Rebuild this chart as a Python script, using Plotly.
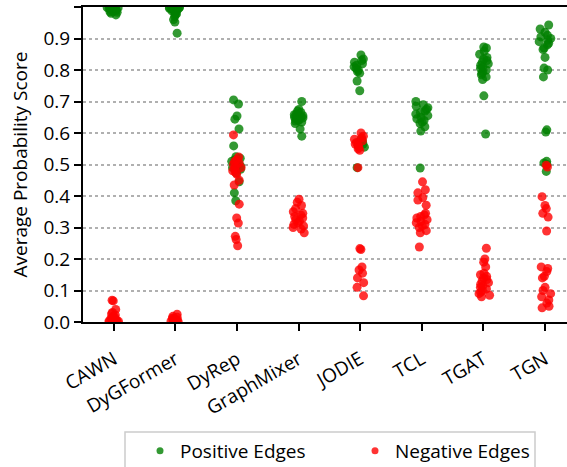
import plotly.graph_objects as go

categories = ["CAWN", "DyGFormer", "DyRep", "GraphMixer", "JODIE", "TCL", "TGAT", "TGN"]

positive = {
    "CAWN": [0.999, 0.998, 0.997, 0.996, 0.995, 0.994, 0.993, 0.992, 0.99, 0.989, 0.987, 0.985, 0.983, 0.98, 0.975],
    "DyGFormer": [1.0, 0.999, 0.998, 0.997, 0.996, 0.995, 0.994, 0.993, 0.992, 0.99, 0.988, 0.985, 0.982, 0.978, 0.975, 0.97, 0.96, 0.952, 0.917],
    "DyRep": [0.705, 0.692, 0.654, 0.644, 0.613, 0.559, 0.525, 0.52, 0.515, 0.51, 0.505, 0.5, 0.495, 0.49, 0.485, 0.473, 0.445, 0.41, 0.385],
    "GraphMixer": [0.70, 0.675, 0.67, 0.665, 0.66, 0.658, 0.655, 0.652, 0.65, 0.648, 0.645, 0.642, 0.64, 0.638, 0.635, 0.63, 0.613, 0.59],
    "JODIE": [0.848, 0.835, 0.83, 0.825, 0.82, 0.815, 0.81, 0.805, 0.8, 0.795, 0.79, 0.765, 0.734, 0.58, 0.575, 0.57, 0.565, 0.56, 0.555, 0.49],
    "TCL": [0.70, 0.69, 0.685, 0.68, 0.675, 0.67, 0.665, 0.66, 0.655, 0.65, 0.645, 0.64, 0.635, 0.63, 0.62, 0.606, 0.489],
    "TGAT": [0.873, 0.87, 0.86, 0.85, 0.84, 0.835, 0.83, 0.825, 0.82, 0.815, 0.81, 0.805, 0.8, 0.795, 0.79, 0.785, 0.778, 0.77, 0.718, 0.597],
    "TGN": [0.943, 0.93, 0.92, 0.91, 0.905, 0.9, 0.895, 0.89, 0.885, 0.88, 0.87, 0.865, 0.84, 0.806, 0.8, 0.778, 0.61, 0.603, 0.51, 0.505, 0.5, 0.478],
}

negative = {
    "CAWN": [0.069, 0.067, 0.04, 0.03, 0.026, 0.022, 0.018, 0.015, 0.012, 0.01, 0.008, 0.006, 0.005, 0.004, 0.003, 0.002, 0.001, 0.001],
    "DyGFormer": [0.025, 0.018, 0.015, 0.012, 0.01, 0.008, 0.006, 0.005, 0.004, 0.003, 0.002, 0.002, 0.001, 0.001, 0.0],
    "DyRep": [0.594, 0.524, 0.515, 0.51, 0.505, 0.5, 0.495, 0.49, 0.485, 0.48, 0.475, 0.47, 0.45, 0.435, 0.374, 0.33, 0.314, 0.272, 0.262, 0.242],
    "GraphMixer": [0.39, 0.38, 0.37, 0.36, 0.35, 0.345, 0.34, 0.335, 0.33, 0.325, 0.32, 0.315, 0.31, 0.305, 0.3, 0.295, 0.283],
    "JODIE": [0.6, 0.59, 0.585, 0.58, 0.575, 0.57, 0.565, 0.56, 0.555, 0.55, 0.545, 0.49, 0.233, 0.23, 0.175, 0.165, 0.155, 0.14, 0.125, 0.11, 0.083],
    "TCL": [0.445, 0.42, 0.41, 0.395, 0.387, 0.371, 0.345, 0.34, 0.335, 0.33, 0.325, 0.32, 0.315, 0.31, 0.305, 0.3, 0.29, 0.283, 0.238],
    "TGAT": [0.234, 0.2, 0.19, 0.175, 0.155, 0.15, 0.145, 0.14, 0.135, 0.13, 0.125, 0.12, 0.115, 0.11, 0.105, 0.1, 0.095, 0.09, 0.085, 0.08],
    "TGN": [0.498, 0.492, 0.398, 0.37, 0.36, 0.345, 0.333, 0.289, 0.175, 0.17, 0.16, 0.145, 0.14, 0.11, 0.1, 0.09, 0.08, 0.07, 0.06, 0.05, 0.045],
}

y_title = "Average Probability Score"

series = [("Positive Edges", positive, "rgba(0,128,0,0.8)", "legend"),
          ("Negative Edges", negative, "rgba(255,0,0,0.8)", "legend2")]

FONT = "Open Sans"
FS = 19
fig = go.Figure()

for name, data, color, leg in series:
    xs, ys = [], []
    for c in categories:
        xs += [c] * len(data[c])
        ys += data[c]
    fig.add_trace(go.Box(
        x=xs, y=ys, name=name, boxpoints="all", jitter=1, pointpos=0,
        width=0.22, fillcolor="rgba(0,0,0,0)", line=dict(color="rgba(0,0,0,0)", width=0),
        marker=dict(color=color, size=9, line=dict(width=0)),
        showlegend=False, hoveron="points",
    ))
    fig.add_trace(go.Scatter(
        x=[None], y=[None], mode="markers", name=name, legend=leg,
        marker=dict(color=color, size=7),
    ))

leg_common = dict(xref="container", yref="container", xanchor="left", yanchor="middle",
                  y=(467 - 451) / 467, borderwidth=0, bgcolor="rgba(0,0,0,0)",
                  font=dict(size=FS, family=FONT))

fig.update_layout(
    width=567, height=467,
    margin=dict(l=83, r=0, t=7, b=145, autoexpand=False),
    paper_bgcolor="white", plot_bgcolor="white",
    boxmode="overlay",
    font=dict(family=FONT, size=FS, color="black"),
    legend=dict(x=140 / 567, **leg_common),
    legend2=dict(x=355 / 567, **leg_common),
    shapes=[dict(type="rect", xref="paper", yref="paper",
                 x0=(125 - 83) / 484, x1=(535 - 83) / 484,
                 y0=(322 - 480) / 315, y1=(322 - 432) / 315,
                 line=dict(color="#cccccc", width=1.5), fillcolor="rgba(0,0,0,0)",
                 layer="above")],
    annotations=[dict(text=y_title, xref="paper", yref="paper",
                      x=(19 - 83) / 484, y=0.5, textangle=-90, showarrow=False,
                      xanchor="center", yanchor="middle", font=dict(size=FS))],
)

fig.update_xaxes(
    categoryorder="array", categoryarray=categories, automargin=False,
    range=[-0.5, 7.357], showline=True, linecolor="black", linewidth=2,
    mirror=True, ticks="outside", ticklen=7, tickwidth=2, tickcolor="black",
    tickangle=-30, showgrid=False, zeroline=False, ticklabelstandoff=10,
    tickfont=dict(size=FS),
)
fig.update_yaxes(
    range=[0, 1], dtick=0.1, tickformat=".1f", automargin=False,
    showline=True, linecolor="black", linewidth=2, mirror=False,
    ticks="outside", ticklen=7, tickwidth=2, tickcolor="black",
    showgrid=True, gridcolor="#b0b0b0", griddash="dot", gridwidth=1.5,
    zeroline=False, tickfont=dict(size=FS),
)

fig.write_html("out.html")
